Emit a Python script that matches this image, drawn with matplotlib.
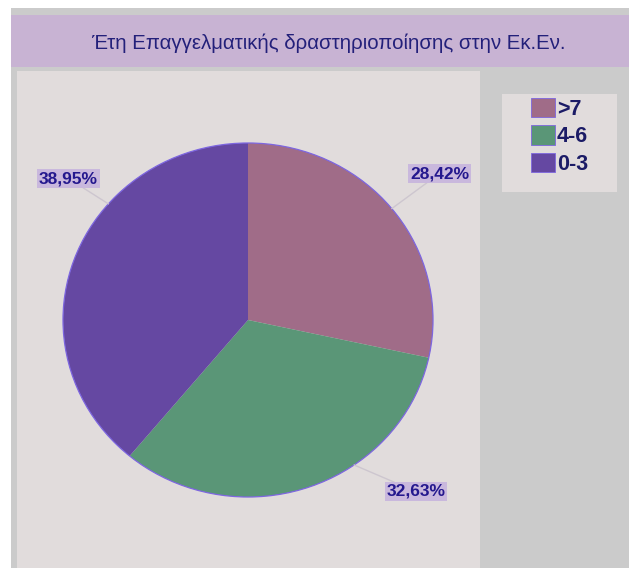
import matplotlib
matplotlib.use("Agg")
import matplotlib.pyplot as plt
from matplotlib.patches import Rectangle, Ellipse
import numpy as np

plt.rcParams['font.family'] = ['Liberation Sans', 'DejaVu Sans']

# Data
categories = [">7", "4-6", "0-3"]
shares = [28.42, 32.63, 38.95]
colors = ["#a06c88", "#5a9677", "#6548a2"]
title = "Έτη Επαγγελματικής δραστηριοποίησης στην Εκ.Εν."

W, H = 629, 568
fig = plt.figure(figsize=(W / 100, H / 100), dpi=100, facecolor="white")

def fig_rect(x0, y0, x1, y1, color):
    fig.patches.append(Rectangle((x0 / W, 1 - y1 / H), (x1 - x0) / W, (y1 - y0) / H,
                                 transform=fig.transFigure, facecolor=color,
                                 edgecolor="none", zorder=-5))

# Background panels
fig_rect(11, 8, W, H, "#cbcbcb")
fig_rect(11, 15, W, 67, "#c8b3d3")
fig_rect(17, 71, 480, H, "#e1dcdc")
fig_rect(502, 94, 617, 192, "#e1dcdc")

fig.text(328 / W, 1 - 43 / H, title, ha="center", va="center",
         fontsize=14.7, color="#23207a")

# Pie axes spanning the plot area
ax = fig.add_axes([17 / W, 0, (480 - 17) / W, 1 - 71 / H])
ax.set_zorder(2)
ax.set_facecolor("none")
cx, cy, rx, ry = 248, 320, 185, 177

wedges, _ = ax.pie(shares, colors=colors, startangle=90, counterclock=False,
                   radius=1, center=(0, 0), frame=True,
                   wedgeprops=dict(edgecolor="none", linewidth=0))
ax.set_aspect("auto")
ax.set_xlim((17 - cx) / rx, (480 - cx) / rx)
ax.set_ylim((cy - H) / ry, (cy - 71) / ry)
ax.axis("off")
ax.add_patch(Ellipse((0, 0), 2, 2, facecolor="none", edgecolor="#7d66e0",
                     linewidth=0.9, zorder=3))

# Value labels with leader lines
label_pos = [(439.5, 173.5), (416, 491.5), (68.5, 178.5)]
anchor_deg = [39, -55, 139]
for val, (px, py), a in zip(shares, label_pos, anchor_deg):
    tx, ty = (px - cx) / rx, (cy - py) / ry
    ex, ey = np.cos(np.radians(a)), np.sin(np.radians(a))
    txt = f"{val:.2f}%".replace(".", ",")
    ax.annotate(txt, xy=(ex, ey), xytext=(tx, ty), ha="center", va="center",
                fontsize=12.5, fontweight="bold", color="#24188e",
                bbox=dict(boxstyle="square,pad=0.1", facecolor="#c9b8dd",
                          edgecolor="none"),
                arrowprops=dict(arrowstyle="-", color="#cdc6cf", lw=1,
                                shrinkA=0, shrinkB=0))

# Legend
leg = fig.legend(wedges, categories, loc="upper left",
                 bbox_to_anchor=(516 / W, 1 - 83 / H), frameon=False,
                 prop=dict(size=15.5, weight="bold"), labelcolor="#1b1b66",
                 handlelength=1.1, handleheight=1.0, handletextpad=0.1,
                 labelspacing=0.25, borderpad=0.2)
for h in leg.legend_handles:
    h.set_edgecolor("#7d66e0")
    h.set_linewidth(0.6)

fig.savefig("out.png", dpi=100, facecolor="white")
